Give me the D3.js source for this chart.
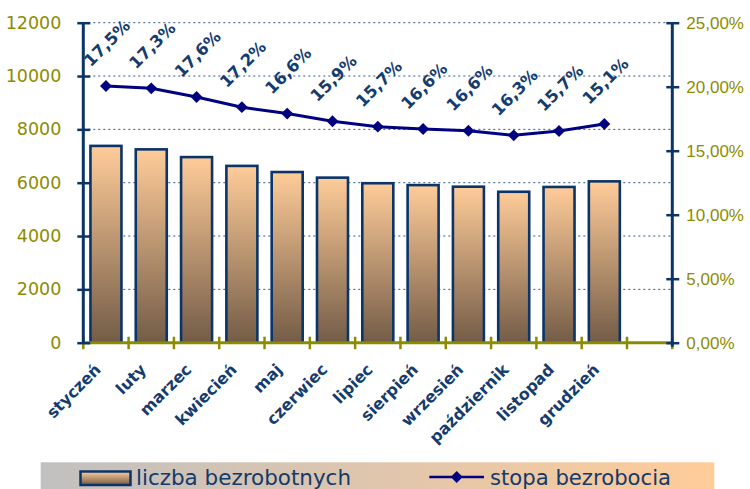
<!DOCTYPE html>
<html>
<head>
<meta charset="utf-8">
<script src="https://cdn.jsdelivr.net/npm/d3@7"></script>
<style>
  body { margin: 0; background: #fff; }
  svg { display: block; }
</style>
</head>
<body>
<div class="chart"></div>
<script>
let months = ["styczeń", "luty", "marzec", "kwiecień", "maj", "czerwiec", "lipiec",
  "sierpień", "wrzesień", "październik", "listopad", "grudzień"];
let unemployed = [7380, 7250, 6960, 6630, 6400, 6190, 5980, 5910, 5850, 5660, 5840, 6050];
let rate = [20.05, 19.87, 19.2, 18.4, 17.9, 17.3, 16.88, 16.7, 16.56, 16.2, 16.54, 17.09];
let rateLabels = ["17,5%", "17,3%", "17,6%", "17,2%", "16,6%", "15,9%", "15,7%",
  "16,6%", "16,6%", "16,3%", "15,7%", "15,1%"];
let leftTicks = [0, 2000, 4000, 6000, 8000, 10000, 12000];
let rightTicks = [0, 5, 10, 15, 20, 25];
let legendLabels = ["liczba bezrobotnych", "stopa bezrobocia"];

let width = 750;
let height = 489;
let margin = { top: 22.7, left: 83.3, right: 77.7, bottom: 146.3 };
let plotW = width - margin.left - margin.right;
let plotH = height - margin.top - margin.bottom;

let navy = "#0b3568";
let olive = "#8c8c00";

let svg = d3.select(".chart")
  .append("svg")
  .attr("width", width)
  .attr("height", height);

let defs = svg.append("defs");
let barGrad = defs.append("linearGradient")
  .attr("id", "barGrad")
  .attr("x1", 0).attr("y1", 0).attr("x2", 0).attr("y2", 1);
barGrad.append("stop").attr("offset", "0%").attr("stop-color", "#ffcc99");
barGrad.append("stop").attr("offset", "100%").attr("stop-color", "#735c47");

let legGrad = defs.append("linearGradient")
  .attr("id", "legGrad")
  .attr("x1", 0).attr("y1", 0).attr("x2", 1).attr("y2", 0);
legGrad.append("stop").attr("offset", "0%").attr("stop-color", "#c0c0c0");
legGrad.append("stop").attr("offset", "100%").attr("stop-color", "#ffcc99");

let g = svg.append("g")
  .attr("transform", "translate(" + margin.left + "," + margin.top + ")");

// 13 slots, the last one stays empty
let slot = plotW / 13;

let y = d3.scaleLinear().domain([0, 12000]).range([plotH, 0]);
let y2 = d3.scaleLinear().domain([0, 25]).range([plotH, 0]);

// gridlines
g.selectAll(".grid")
  .data(leftTicks.filter(d => d > 0))
  .enter()
  .append("line")
  .attr("class", "grid")
  .attr("x1", 0)
  .attr("x2", plotW)
  .attr("y1", d => y(d))
  .attr("y2", d => y(d))
  .attr("stroke", "#2d5a8a")
  .attr("stroke-width", 1)
  .attr("stroke-dasharray", "2,3");

// bars
g.selectAll(".bar")
  .data(unemployed)
  .enter()
  .append("rect")
  .attr("class", "bar")
  .attr("x", (d, i) => i * slot + (slot - 31) / 2)
  .attr("width", 31)
  .attr("y", d => y(d))
  .attr("height", d => plotH - y(d))
  .attr("fill", "url(#barGrad)")
  .attr("stroke", navy)
  .attr("stroke-width", 2.6);

// x axis (olive) with ticks between categories
g.append("line")
  .attr("x1", 0).attr("x2", plotW)
  .attr("y1", plotH).attr("y2", plotH)
  .attr("stroke", olive).attr("stroke-width", 3);
g.selectAll(".xtick")
  .data(d3.range(14))
  .enter()
  .append("line")
  .attr("x1", d => d * slot).attr("x2", d => d * slot)
  .attr("y1", plotH - 6).attr("y2", plotH + 6.5)
  .attr("stroke", olive).attr("stroke-width", 2.5);

// left axis
let leftAxis = g.append("g")
  .call(d3.axisLeft(y).tickValues(leftTicks).tickSize(6).tickPadding(16).tickFormat(d3.format("d")));
leftAxis.select(".domain").attr("stroke", navy).attr("stroke-width", 3)
  .attr("d", "M0,0V" + plotH);
leftAxis.selectAll(".tick line").attr("stroke", navy).attr("stroke-width", 2.5)
  .attr("x1", -6).attr("x2", 7);
leftAxis.selectAll(".tick text")
  .attr("fill", olive)
  .attr("font-family", "'DejaVu Sans', Verdana, sans-serif")
  .attr("font-size", "17.5px");

// right axis
let rightAxis = g.append("g")
  .attr("transform", "translate(" + plotW + ",0)")
  .call(d3.axisRight(y2).tickValues(rightTicks).tickSize(6).tickPadding(8)
    .tickFormat(d => d3.format(".2f")(d).replace(".", ",") + "%"));
rightAxis.select(".domain").attr("stroke", navy).attr("stroke-width", 3)
  .attr("d", "M0,0V" + (plotH + 4));
rightAxis.selectAll(".tick line").attr("stroke", navy).attr("stroke-width", 2.5)
  .attr("x1", -6).attr("x2", 7);
rightAxis.selectAll(".tick text")
  .attr("fill", olive)
  .attr("font-family", "'Liberation Sans', Arial, sans-serif")
  .attr("font-size", "17px");

// category labels
g.selectAll(".cat")
  .data(months)
  .enter()
  .append("text")
  .attr("class", "cat")
  .attr("transform", (d, i) => "translate(" + ((i + 0.5) * slot - 8) + "," + (plotH + 24) + ") rotate(-45)")
  .attr("text-anchor", "end")
  .attr("dy", "0.35em")
  .attr("fill", "#143c6e")
  .attr("font-family", "'DejaVu Sans', Verdana, sans-serif")
  .attr("font-weight", "bold")
  .attr("font-size", "16px")
  .text(d => d);

// rate line
let line = d3.line()
  .x((d, i) => (i + 0.5) * slot)
  .y(d => y2(d));
g.append("path")
  .datum(rate)
  .attr("d", line)
  .attr("fill", "none")
  .attr("stroke", "#000080")
  .attr("stroke-width", 3);
let diamond = d3.symbol().type(d3.symbolDiamond2).size(90);
g.selectAll(".pt")
  .data(rate)
  .enter()
  .append("path")
  .attr("class", "pt")
  .attr("transform", (d, i) => "translate(" + ((i + 0.5) * slot) + "," + y2(d) + ")")
  .attr("d", diamond)
  .attr("fill", "#000080");

// rate labels
g.selectAll(".lab")
  .data(rate)
  .enter()
  .append("text")
  .attr("class", "lab")
  .attr("transform", (d, i) => "translate(" + ((i + 0.5) * slot + 1) + "," + (y2(d) - 43) + ") rotate(-45)")
  .attr("text-anchor", "middle")
  .attr("dy", "0.35em")
  .attr("fill", "#143c6e")
  .attr("font-family", "'DejaVu Sans', Verdana, sans-serif")
  .attr("font-weight", "bold")
  .attr("font-size", "16.5px")
  .text((d, i) => rateLabels[i]);

// legend
let leg = svg.append("g");
leg.append("rect")
  .attr("x", 40.7).attr("y", 462.3)
  .attr("width", 673.6).attr("height", 30)
  .attr("fill", "url(#legGrad)");
leg.append("rect")
  .attr("x", 80.5).attr("y", 471.5)
  .attr("width", 50).attr("height", 13.5)
  .attr("fill", "url(#barGrad)")
  .attr("stroke", navy).attr("stroke-width", 2.5);
leg.append("line")
  .attr("x1", 429.3).attr("x2", 484)
  .attr("y1", 477).attr("y2", 477)
  .attr("stroke", "#000080").attr("stroke-width", 2.5);
leg.append("path")
  .attr("transform", "translate(456.7,477)")
  .attr("d", diamond)
  .attr("fill", "#000080");
leg.selectAll(".legtext")
  .data(legendLabels)
  .enter()
  .append("text")
  .attr("class", "legtext")
  .attr("x", (d, i) => i === 0 ? 136 : 490)
  .attr("y", 485)
  .attr("fill", "#14396a")
  .attr("font-family", "'DejaVu Sans', Verdana, sans-serif")
  .attr("font-size", "20.5px")
  .attr("textLength", (d, i) => i === 0 ? 215 : 181)
  .attr("lengthAdjust", "spacingAndGlyphs")
  .text(d => d);
</script>
</body>
</html>
